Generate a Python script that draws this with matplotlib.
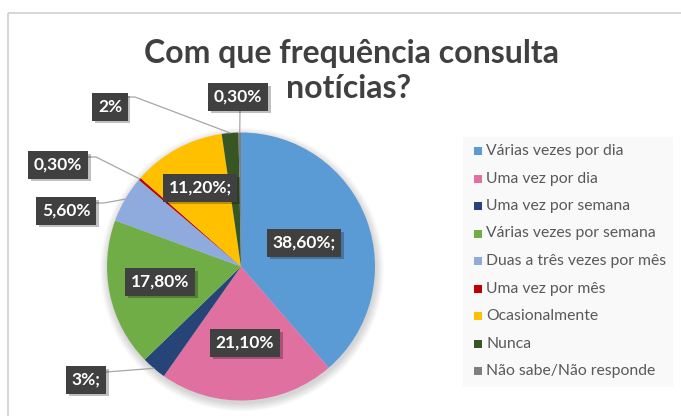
import matplotlib
matplotlib.use("Agg")
import matplotlib.pyplot as plt
from matplotlib.patches import Rectangle, Circle
import matplotlib.patheffects as pe
import numpy as np

categories = ["Várias vezes por dia", "Uma vez por dia", "Uma vez por semana",
              "Várias vezes por semana", "Duas a três vezes por mês", "Uma vez por mês",
              "Ocasionalmente", "Nunca", "Não sabe/Não responde"]
values = [38.6, 21.1, 3.0, 17.8, 5.6, 0.3, 11.2, 2.0, 0.3]
value_labels = ["38,60%;", "21,10%", "3%;", "17,80%", "5,60%", "0,30%", "11,20%;", "2%", "0,30%"]
colors = ["#5B9BD5", "#E0709F", "#264478", "#70AD47", "#8FAADC", "#C00000",
          "#FFC000", "#375623", "#7F7F7F"]
title_lines = ["Com que frequência consulta", "notícias?"]

W, H = 681, 416
FONT = ["Lato", "DejaVu Sans"]
plt.rcParams["font.family"] = FONT

fig = plt.figure(figsize=(W / 100, H / 100), dpi=100)
ax = fig.add_axes([0, 0, 1, 1])


def Y(y):
    return H - y


cx, cy, R = 241, 266.5, 134

# chart border (cropped)
ax.plot([8, W], [Y(13), Y(13)], color="#d0d0d0", lw=1.2, solid_capstyle="butt")
ax.plot([8, 8], [Y(13), 0], color="#d0d0d0", lw=1.2, solid_capstyle="butt")

# soft pie shadow
for i in range(14):
    ax.add_patch(Circle((cx + 1, Y(cy) - 3), R + 8 - i * 0.6, color="black",
                        alpha=0.012, lw=0, zorder=1))

wedges, _ = ax.pie(values, colors=colors, startangle=90, counterclock=False,
                   center=(cx, Y(cy)), radius=R, frame=True,
                   wedgeprops=dict(lw=0, zorder=2))

ax.set_xlim(0, W)
ax.set_ylim(0, H)
ax.set_aspect("auto")
ax.axis("off")

# title (two lines)
ax.text(351.5, Y(63), title_lines[0], ha="center", va="baseline", fontsize=23,
        fontweight="bold", color="#404040")
ax.text(349, Y(98), title_lines[1], ha="center", va="baseline", fontsize=23,
        fontweight="bold", color="#404040")

# mid angles of wedges
cum = np.cumsum([0] + values)
total = sum(values)
mid = [90 - 360 * (cum[i] + values[i] / 2) / total for i in range(len(values))]


def edge_pt(i):
    a = np.deg2rad(mid[i])
    return cx + R * np.cos(a), cy - R * np.sin(a)


# label box positions (pixel centres)
label_pos = {0: (304, 243), 1: (245, 343), 2: (86, 380), 3: (160, 282),
             4: (66, 211), 5: (58, 165), 6: (200, 188), 7: (110, 107), 8: (238, 97)}
# leader line starts/elbows for outside labels
leaders = {2: [(106, 372)], 4: [(94, 203), (104, 203)], 5: [(87, 157), (96, 157)],
           7: [(127, 97), (135, 97)], 8: [(240, 111)]}

for i, pts in leaders.items():
    ex, ey = edge_pt(i)
    xs = [p[0] for p in pts] + [ex]
    ys = [Y(p[1]) for p in pts] + [Y(ey)]
    ax.plot(xs, ys, color="#a6a6a6", lw=0.9, zorder=3)

for i, (x, y) in label_pos.items():
    t = ax.text(x, Y(y), value_labels[i], ha="center", va="center", color="white",
                fontsize=12.5, fontweight="bold", zorder=5,
                bbox=dict(boxstyle="square,pad=0.32", fc="#404040", ec="none"))
    t.get_bbox_patch().set_path_effects([
        pe.SimplePatchShadow(offset=(2, -2), shadow_rgbFace="black", alpha=0.25),
        pe.Normal()])

# legend
ax.add_patch(Rectangle((463, Y(387)), 210, 250, fc="#f9f9f9", ec="none", zorder=1))
for k, cat in enumerate(categories):
    yy = 151 + 27.5 * k
    ax.add_patch(Rectangle((474, Y(yy) - 4), 8, 8, fc=colors[k], ec="none", zorder=3))
    ax.text(486, Y(yy), cat, ha="left", va="center", fontsize=11.3,
            color="#595959", zorder=3)

fig.savefig("out.png", dpi=100, facecolor="white")
